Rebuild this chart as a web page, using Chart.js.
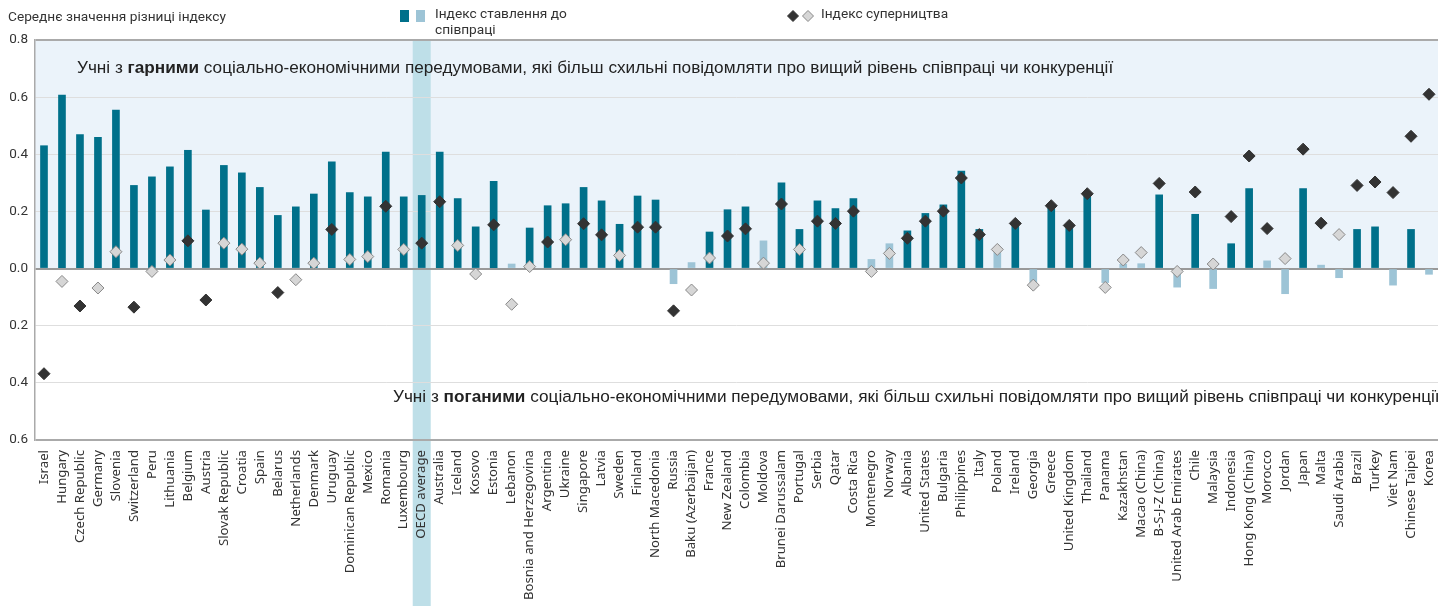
<!DOCTYPE html>
<html>
<head>
<meta charset="utf-8">
<script src="https://cdn.jsdelivr.net/npm/chart.js@4/dist/chart.umd.min.js"></script>
<style>
  body { margin: 0; background: #fff; }
  #wrap { position: relative; width: 1438px; height: 606px; }
</style>
</head>
<body>
<div id="wrap"><canvas id="myChart"></canvas></div>
<script>
const ctx = document.getElementById("myChart");

// countries, left to right
const countries = ['Israel','Hungary','Czech Republic','Germany','Slovenia','Switzerland','Peru','Lithuania','Belgium','Austria',
  'Slovak Republic','Croatia','Spain','Belarus','Netherlands','Denmark','Uruguay','Dominican Republic','Mexico','Romania',
  'Luxembourg','OECD average','Australia','Iceland','Kosovo','Estonia','Lebanon','Bosnia and Herzegovina','Argentina','Ukraine',
  'Singapore','Latvia','Sweden','Finland','North Macedonia','Russia','Baku (Azerbaijan)','France','New Zealand','Colombia',
  'Moldova','Brunei Darussalam','Portugal','Serbia','Qatar','Costa Rica','Montenegro','Norway','Albania','United States',
  'Bulgaria','Philippines','Italy','Poland','Ireland','Georgia','Greece','United Kingdom','Thailand','Panama',
  'Kazakhstan','Macao (China)','B-S-J-Z (China)','United Arab Emirates','Chile','Malaysia','Indonesia','Hong Kong (China)','Morocco','Jordan',
  'Japan','Malta','Saudi Arabia','Brazil','Turkey','Viet Nam','Chinese Taipei','Korea'];

// index of attitudes towards cooperation (bars)
const coop = [0.430,0.607,0.469,0.459,0.555,0.291,0.321,0.356,0.414,0.205,
  0.361,0.335,0.284,0.186,0.216,0.261,0.374,0.266,0.251,0.408,
  0.251,0.256,0.408,0.245,0.146,0.305,0.016,0.142,0.220,0.227,
  0.284,0.237,0.155,0.254,0.240,-0.053,0.021,0.128,0.206,0.216,
  0.097,0.300,0.137,0.237,0.210,0.245,0.032,0.087,0.132,0.193,
  0.223,0.341,0.137,0.056,0.148,-0.049,0.212,0.143,0.253,-0.049,
  0.015,0.017,0.258,-0.065,0.190,-0.070,0.087,0.280,0.027,-0.088,
  0.280,0.012,-0.032,0.137,0.146,-0.058,0.137,-0.020];
// 1 = significant (dark), 0 = not significant (light)
const coopSig = [1,1,1,1,1,1,1,1,1,1, 1,1,1,1,1,1,1,1,1,1, 1,1,1,1,1,1,0,1,1,1,
  1,1,1,1,1,0,0,1,1,1, 0,1,1,1,1,1,0,0,1,1, 1,1,1,0,1,0,1,1,1,0,
  0,0,1,0,1,0,1,1,0,0, 1,0,0,1,1,0,1,0];

// index of competitiveness (diamonds)
const comp = [-0.368,-0.045,-0.131,-0.068,0.059,-0.135,-0.010,0.030,0.097,-0.110,
  0.089,0.068,0.019,-0.084,-0.039,0.019,0.137,0.032,0.042,0.218,
  0.067,0.089,0.234,0.081,-0.019,0.153,-0.125,0.007,0.093,0.101,
  0.157,0.118,0.046,0.145,0.145,-0.148,-0.075,0.037,0.114,0.139,
  0.019,0.226,0.067,0.166,0.158,0.201,-0.010,0.053,0.106,0.166,
  0.201,0.317,0.119,0.067,0.158,-0.058,0.220,0.151,0.262,-0.066,
  0.030,0.056,0.298,-0.010,0.268,0.016,0.182,0.394,0.140,0.035,
  0.418,0.159,0.119,0.291,0.303,0.266,0.463,0.610];
const compSig = [1,0,1,0,0,1,0,0,1,1, 0,0,0,1,0,0,1,0,0,1, 0,1,1,0,0,1,0,0,1,0,
  1,1,0,1,1,1,0,0,1,1, 0,1,0,1,1,1,0,0,1,1, 1,1,1,0,1,0,1,1,1,0,
  0,0,1,0,1,0,1,1,1,0, 1,1,0,1,1,1,1,1];

const yTicks = [0.8, 0.6, 0.4, 0.2, 0.0, -0.2, -0.4, -0.6];

const dark = '#00708a', light = '#9dc4d6';

// background, OECD band, title, legend, notes
const extras = {
  id: 'extras',
  beforeDraw(chart) {
    const c = chart.ctx, a = chart.chartArea;
    const y = chart.scales.y, x = chart.scales.x;
    c.save();
    c.fillStyle = '#ebf3fa';
    c.fillRect(a.left, y.getPixelForValue(0.8), a.right - a.left, y.getPixelForValue(0) - y.getPixelForValue(0.8));
    const oi = countries.indexOf('OECD average');
    const w = (a.right - a.left) / countries.length;
    const cx = x.getPixelForValue(oi);
    c.fillStyle = '#bedfe8';
    c.fillRect(cx - w / 2, a.top, w, chart.height - a.top);
    c.restore();
  },
  afterDraw(chart) {
    const c = chart.ctx;
    c.save();
    c.fillStyle = '#333';
    c.textBaseline = 'middle';
    c.font = '13.7px Roboto';
    c.fillText('Середнє значення різниці індексу', 8, 18);
    // legend
    c.fillStyle = dark; c.fillRect(400, 10, 9, 12);
    c.fillStyle = light; c.fillRect(416, 10, 9, 12);
    c.fillStyle = '#333';
    c.fillText('Індекс ставлення до', 435, 15);
    c.fillText('співпраці', 435, 31);
    diamond(c, 793, 16, 5.5, '#333', '#333');
    diamond(c, 808, 16, 5.5, '#d6d6d6', '#888');
    c.fillStyle = '#333';
    c.fillText('Індекс суперництва', 821, 15);
    // notes
    note(c, 77, 68, 'гарними');
    note(c, 393, 397, 'поганими');
    c.restore();
  }
};

function diamond(c, x, y, r, fill, stroke) {
  c.beginPath();
  c.moveTo(x, y - r); c.lineTo(x + r, y); c.lineTo(x, y + r); c.lineTo(x - r, y); c.closePath();
  c.fillStyle = fill; c.fill();
  c.strokeStyle = stroke; c.lineWidth = 1; c.stroke();
}

function note(c, x, y, word) {
  const reg = '17.2px "Liberation Sans"', bold = 'bold 17.2px "Liberation Sans"';
  const parts = [['Учні з ', reg], [word, bold],
    [' соціально-економічними передумовами, які більш схильні повідомляти про вищий рівень співпраці чи конкуренції', reg]];
  c.fillStyle = '#222';
  for (const [t, f] of parts) {
    c.font = f;
    c.fillText(t, x, y);
    x += c.measureText(t).width;
  }
}

new Chart(ctx, {
  data: {
    labels: countries,
    datasets: [{
      type: 'line',
      label: 'Індекс суперництва',
      data: comp,
      showLine: false,
      pointStyle: 'rectRot',
      pointRadius: 6,
      pointHoverRadius: 6,
      pointBackgroundColor: compSig.map(s => s ? '#333333' : '#d6d6d6'),
      pointBorderColor: compSig.map(s => s ? '#333333' : '#888888'),
      pointBorderWidth: 1,
      order: 1
    }, {
      type: 'bar',
      label: 'Індекс ставлення до співпраці',
      data: coop,
      backgroundColor: coopSig.map(s => s ? dark : light),
      barThickness: 7,
      order: 2
    }]
  },
  options: {
    responsive: true,
    maintainAspectRatio: false,
    animation: false,
    layout: { autoPadding: false, padding: { top: 40, left: 0, right: 0, bottom: 0 } },
    plugins: { legend: { display: false }, tooltip: { enabled: false } },
    scales: {
      x: {
        offset: true,
        grid: { display: false, drawTicks: false },
        border: { display: false },
        ticks: {
          autoSkip: false, minRotation: 90, maxRotation: 90, padding: 10,
          color: '#333', font: { family: 'Noto Sans', size: 13.2 }
        },
        afterFit(s) { s.height = 166; s.paddingLeft = 0; s.paddingRight = 0; }
      },
      y: {
        min: -0.6, max: 0.8,
        afterBuildTicks(s) { s.ticks = yTicks.map(v => ({ value: v })); },
        grid: {
          drawTicks: false,
          color: c => {
            const v = c.tick ? Math.round(c.tick.value * 10) / 10 : null;
            if (v === 0) return '#999999';
            if (v === 0.8 || v === -0.6) return '#aaaaaa';
            return '#dedede';
          },
          lineWidth: c => {
            const v = c.tick ? Math.round(c.tick.value * 10) / 10 : null;
            return (v === 0 || v === 0.8 || v === -0.6) ? 2 : 1;
          }
        },
        border: { display: true, color: '#aaaaaa', width: 1.5 },
        ticks: {
          padding: 7, color: '#333', font: { family: 'Roboto', size: 13.5 },
          callback: v => Math.abs(v).toFixed(1)
        },
        afterFit(s) { s.width = 35; }
      }
    }
  },
  plugins: [extras]
});
</script>
</body>
</html>
